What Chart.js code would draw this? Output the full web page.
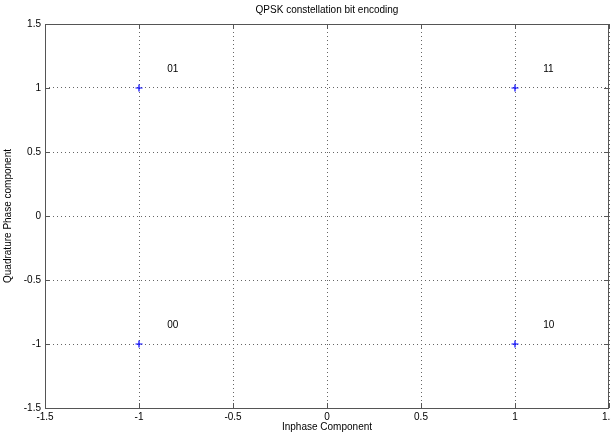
<!DOCTYPE html>
<html lang="en">
<head>
    <meta charset="UTF-8">
    <title>QPSK constellation bit encoding</title>
    <script src="https://cdn.jsdelivr.net/npm/chart.js"></script>
    <style>
        html, body { margin: 0; padding: 0; background: #fff; }
        #wrap { width: 611px; height: 433px; }
    </style>
</head>
<body>
    <div id="wrap"><canvas id="qpskChart" width="611" height="433"></canvas></div>

    <script>
        // constellation points
        const inphase = [-1, 1, -1, 1];
        const quadrature = [1, 1, -1, -1];
        // bit labels and where they sit
        const bitLabels = ['01', '11', '00', '10'];
        const labelX = [-0.85, 1.15, -0.85, 1.15];
        const labelY = [1.15, 1.15, -0.85, -0.85];
        const axisTicks = [-1.5, -1, -0.5, 0, 0.5, 1, 1.5];

        const FONT = 'Liberation Sans, Arial, sans-serif';
        const AXIS_COLOR = '#555';

        const frame = {
            id: 'frame',
            afterDatasetsDraw(chart) {
                const { ctx, chartArea: a, scales } = chart;
                ctx.save();
                // box
                ctx.strokeStyle = AXIS_COLOR;
                ctx.lineWidth = 1;
                ctx.strokeRect(a.left + 0.5, a.top + 0.5, a.right - a.left - 1, a.bottom - a.top);
                // inward tick marks
                ctx.beginPath();
                axisTicks.forEach(v => {
                    const x = Math.round(scales.x.getPixelForValue(v)) + 0.5;
                    ctx.moveTo(x, a.bottom); ctx.lineTo(x, a.bottom - 5);
                    ctx.moveTo(x, a.top); ctx.lineTo(x, a.top + 5);
                    const y = Math.round(scales.y.getPixelForValue(v)) + 0.5;
                    ctx.moveTo(a.left, y); ctx.lineTo(a.left + 5, y);
                    ctx.moveTo(a.right, y); ctx.lineTo(a.right - 5, y);
                });
                ctx.stroke();
                // bit labels
                ctx.fillStyle = '#000';
                ctx.font = '10px ' + FONT;
                ctx.textAlign = 'left';
                ctx.textBaseline = 'middle';
                bitLabels.forEach((t, i) => {
                    ctx.fillText(t, scales.x.getPixelForValue(labelX[i]), scales.y.getPixelForValue(labelY[i]));
                });
                // title
                ctx.textAlign = 'center';
                ctx.fillText('QPSK constellation bit encoding', (a.left + a.right) / 2, 10);
                ctx.restore();
            }
        };

        const ctx = document.getElementById('qpskChart').getContext('2d');
        new Chart(ctx, {
            type: 'scatter',
            data: {
                datasets: [{
                    data: inphase.map((x, i) => ({ x: x, y: quadrature[i] })),
                    pointStyle: 'cross',
                    pointRadius: 3.5,
                    pointBorderWidth: 1.2,
                    borderColor: '#0000ff',
                    backgroundColor: '#0000ff'
                }]
            },
            options: {
                responsive: false,
                animation: false,
                layout: { autoPadding: false, padding: { top: 24, left: 0, right: 2, bottom: 0 } },
                plugins: {
                    legend: { display: false },
                    tooltip: { enabled: false }
                },
                scales: {
                    x: {
                        type: 'linear',
                        min: -1.5, max: 1.5,
                        afterBuildTicks: s => { s.ticks = axisTicks.map(v => ({ value: v })); },
                        afterFit: s => { s.height = 25; s.paddingLeft = 0; s.paddingRight = 0; },
                        ticks: {
                            autoSkip: false, maxRotation: 0, padding: 3,
                            color: '#000', font: { family: FONT, size: 10 },
                            callback: v => String(v)
                        },
                        grid: {
                            color: '#666', lineWidth: 1, tickLength: 0,
                            drawTicks: false
                        },
                        border: { display: false, dash: [1, 3] },
                        title: {
                            display: true, text: 'Inphase Component',
                            color: '#000', font: { family: FONT, size: 10 },
                            padding: { top: 0, bottom: 0 }
                        }
                    },
                    y: {
                        type: 'linear',
                        min: -1.5, max: 1.5,
                        afterBuildTicks: s => { s.ticks = axisTicks.map(v => ({ value: v })); },
                        afterFit: s => { s.width = 45; s.paddingTop = 0; s.paddingBottom = 0; },
                        ticks: {
                            autoSkip: false, padding: 4,
                            color: '#000', font: { family: FONT, size: 10 },
                            callback: v => String(v)
                        },
                        grid: {
                            color: '#666', lineWidth: 1, tickLength: 0,
                            drawTicks: false
                        },
                        border: { display: false, dash: [1, 3] },
                        title: {
                            display: true, text: 'Quadrature Phase component',
                            color: '#000', font: { family: FONT, size: 10 },
                            padding: { top: 2, bottom: 0 }
                        }
                    }
                }
            },
            plugins: [frame]
        });
    </script>
</body>
</html>
